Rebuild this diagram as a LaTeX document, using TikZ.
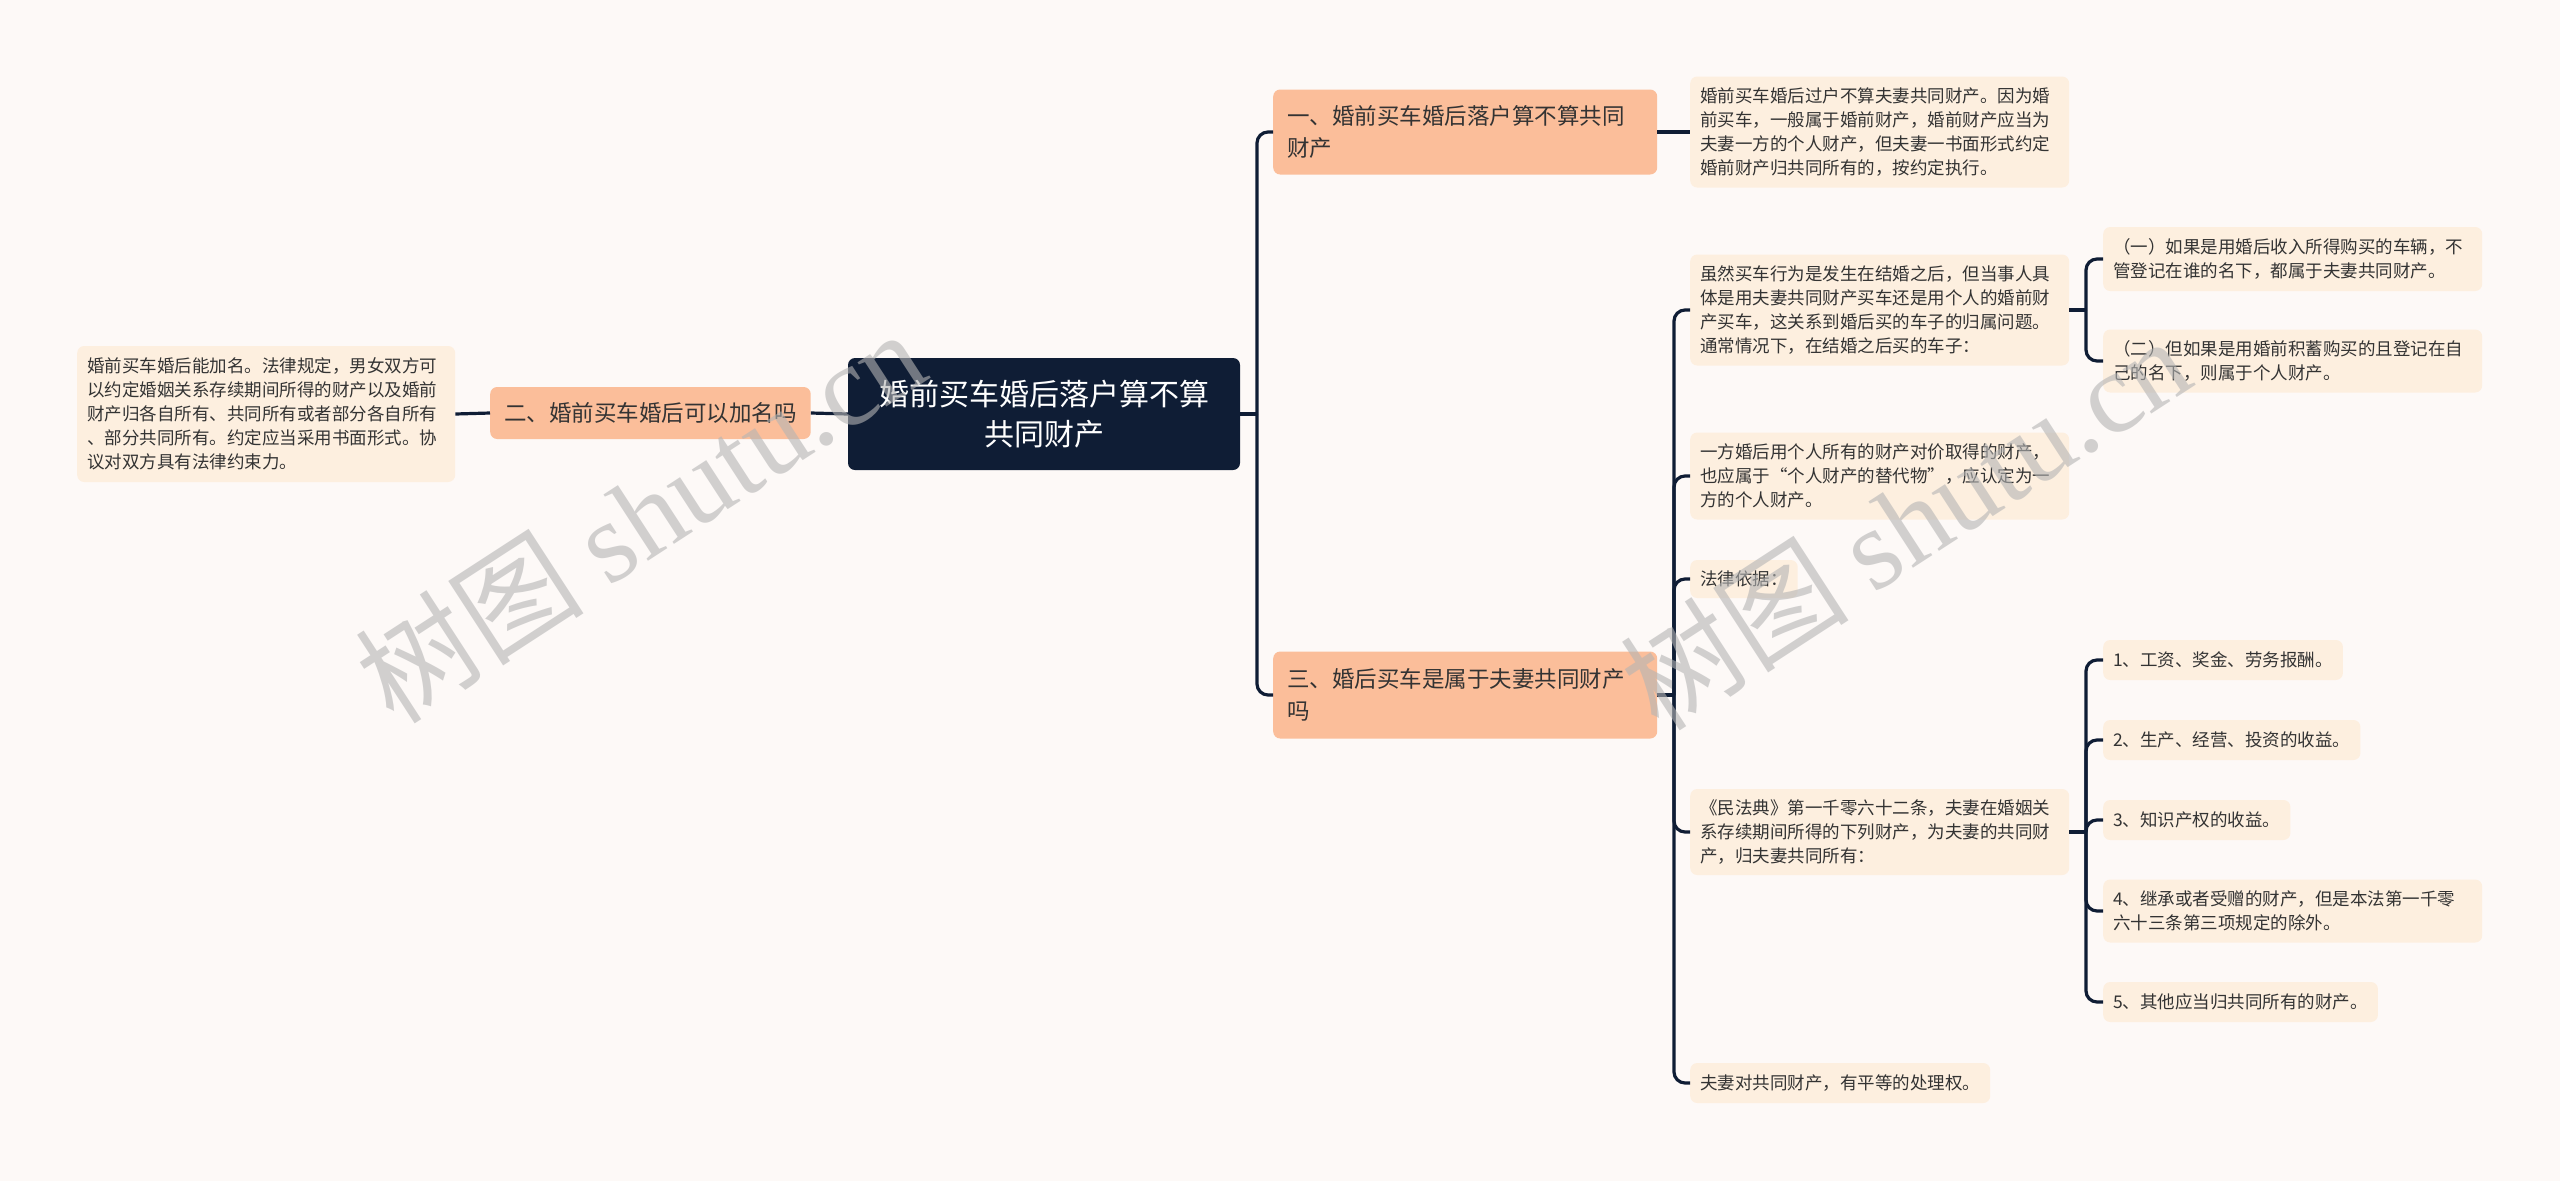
\documentclass[tikz,border=0pt]{standalone}
\usepackage{fontspec}
\setmainfont{Noto Sans CJK SC}
\newfontfamily\markfont{Liberation Serif}
\definecolor{paper}{HTML}{FDF9F7}
\definecolor{navy}{HTML}{0F1D35}
\definecolor{peach}{HTML}{FBBE9A}
\definecolor{cream}{HTML}{FDEFDF}
\definecolor{ink}{HTML}{333333}
\definecolor{markgrey}{HTML}{B4B4B4}
\tikzstyle{rootbox} = [
    rectangle,
    rounded corners=7pt,
    minimum width=392pt,
    minimum height=112pt,
    fill=navy,
    text=white,
    align=center,
    font=\fontsize{30}{40}\selectfont
]
\tikzstyle{topic} = [
    rectangle,
    rounded corners=7pt,
    inner xsep=14pt,
    fill=peach,
    text=ink,
    align=left,
    anchor=west,
    font=\fontsize{22.5}{32}\selectfont
]
\tikzstyle{detail} = [
    rectangle,
    rounded corners=7pt,
    inner xsep=10pt,
    minimum height=40pt,
    fill=cream,
    text=ink,
    align=left,
    anchor=west,
    font=\fontsize{17.5}{24}\selectfont
]
\tikzstyle{wide} = [detail, text width=359pt]
\tikzstyle{watermark} = [
    rotate=33,
    text=markgrey,
    opacity=0.6,
    font=\fontsize{115}{115}\selectfont
]
\tikzstyle{link} = [line width=3.2pt, draw=navy, rounded corners=11pt]

\begin{document}
\begin{tikzpicture}[x=1pt, y=-1pt]

\fill [paper] (0,0) rectangle (2560,1181);
\useasboundingbox (0,0) rectangle (2560,1181);

\node (root) [rootbox] at (1044,414) {婚前买车婚后落户算不算\\共同财产};

\node (two) [topic, minimum height=52pt] at (490,413) {二、婚前买车婚后可以加名吗};

\node (twotxt) [wide, text width=358pt, minimum height=136pt] at (77,414)
{婚前买车婚后能加名。法律规定，男女双方可\\以约定婚姻关系存续期间所得的财产以及婚前\\财产归各自所有、共同所有或者部分各自所有\\、部分共同所有。约定应当采用书面形式。协\\议对双方具有法律约束力。};

\node (one) [topic, text width=356pt, minimum height=85pt] at (1273,132)
{一、婚前买车婚后落户算不算共同\\财产};

\node (onetxt) [wide, minimum height=111pt] at (1690,132)
{婚前买车婚后过户不算夫妻共同财产。因为婚\\前买车，一般属于婚前财产，婚前财产应当为\\夫妻一方的个人财产，但夫妻一书面形式约定\\婚前财产归共同所有的，按约定执行。};

\node (three) [topic, text width=356pt, minimum height=87pt] at (1273,695)
{三、婚后买车是属于夫妻共同财产\\吗};

\node (buyafter) [wide, minimum height=111pt] at (1690,310)
{虽然买车行为是发生在结婚之后，但当事人具\\体是用夫妻共同财产买车还是用个人的婚前财\\产买车，这关系到婚后买的车子的归属问题。\\通常情况下，在结婚之后买的车子：};

\node (income) [wide, minimum height=64pt] at (2103,259)
{（一）如果是用婚后收入所得购买的车辆，不\\管登记在谁的名下，都属于夫妻共同财产。};

\node (savings) [wide, minimum height=63pt] at (2103,361)
{（二）但如果是用婚前积蓄购买的且登记在自\\己的名下，则属于个人财产。};

\node (substitute) [wide, minimum height=87pt] at (1690,476)
{一方婚后用个人所有的财产对价取得的财产，\\也应属于“个人财产的替代物”，应认定为一\\方的个人财产。};

\node (basis) [detail, minimum height=38pt] at (1690,579) {法律依据：};

\node (civilcode) [wide, minimum height=86pt] at (1690,832)
{《民法典》第一千零六十二条，夫妻在婚姻关\\系存续期间所得的下列财产，为夫妻的共同财\\产，归夫妻共同所有：};

\node (wages) [detail] at (2103,660) {1、工资、奖金、劳务报酬。};
\node (business) [detail] at (2103,740) {2、生产、经营、投资的收益。};
\node (patent) [detail] at (2103,820) {3、知识产权的收益。};
\node (inherit) [wide, minimum height=63pt] at (2103,911)
{4、继承或者受赠的财产，但是本法第一千零\\六十三条第三项规定的除外。};
\node (others) [detail] at (2103,1002) {5、其他应当归共同所有的财产。};

\node (equal) [detail] at (1690,1083) {夫妻对共同财产，有平等的处理权。};

\coordinate (jroot) at (1257,414);
\coordinate (jthree) at (1674,695);
\coordinate (jbuy) at (2086,310);
\coordinate (jcode) at (2086,832);

\draw [link] (root.west) -- (two.east);
\draw [link] (two.west) -- (twotxt.east);
\draw [link] (root.east) -- (jroot);
\draw [link] (jroot) |- (one.west);
\draw [link] (jroot) |- (three.west);
\draw [link] (one.east) -- (onetxt.west);

\draw [link] (three.east) -- (jthree);
\draw [link] (jthree) |- (buyafter.west);
\draw [link] (jthree) |- (substitute.west);
\draw [link] (jthree) |- (basis.west);
\draw [link] (jthree) |- (civilcode.west);
\draw [link] (jthree) |- (equal.west);

\draw [link] (buyafter.east) -- (jbuy);
\draw [link] (jbuy) |- (income.west);
\draw [link] (jbuy) |- (savings.west);

\draw [link] (civilcode.east) -- (jcode);
\draw [link] (jcode) |- (wages.west);
\draw [link] (jcode) |- (business.west);
\draw [link] (jcode) |- (patent.west);
\draw [link] (jcode) |- (inherit.west);
\draw [link] (jcode) |- (others.west);

\node (markleft) [watermark] at (640,515) {树图 {\markfont shutu.cn}};
\node (markright) [watermark] at (1905,522) {树图 {\markfont shutu.cn}};

\end{tikzpicture}
\end{document}
